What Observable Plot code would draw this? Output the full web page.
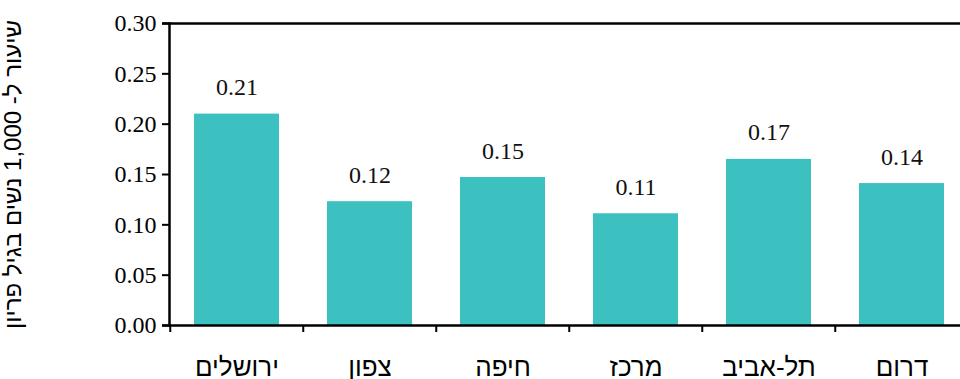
<!DOCTYPE html>
<html>
<head>
<meta charset="utf-8">
<script src="https://cdn.jsdelivr.net/npm/d3@7"></script>
<script src="https://cdn.jsdelivr.net/npm/@observablehq/plot@0.6"></script>
<style>
  html, body { margin: 0; padding: 0; background: #fff; }
  svg { display: block; }
</style>
</head>
<body>
<div id="chart"></div>
<script>
const categories = ["ירושלים", "צפון", "חיפה", "מרכז", "תל-אביב", "דרום"];
const values = [0.210, 0.123, 0.147, 0.111, 0.165, 0.141];
const valueLabels = ["0.21", "0.12", "0.15", "0.11", "0.17", "0.14"];
const yTicks = [0, 0.05, 0.10, 0.15, 0.20, 0.25, 0.30];
const yLabel = "שיעור ל- 1,000 נשים בגיל פריון";

const data = categories.map((c, i) => ({c, v: values[i], t: valueLabels[i]}));

const W = 960, H = 379, mL = 169, mR = -10, mT = 23, mB = 54;
const bw = (W - mL - mR) / categories.length;
const serif = "'Liberation Serif', 'Times New Roman', serif";
const sans = "'Liberation Sans', Arial, sans-serif";

const chart = Plot.plot({
  width: W,
  height: H,
  marginLeft: mL,
  marginRight: mR,
  marginTop: mT,
  marginBottom: mB,
  style: {background: "#fff", color: "#000", overflow: "visible"},
  x: {domain: categories, paddingInner: 0.36, paddingOuter: 0.18},
  y: {domain: [0, 0.30]},
  marks: [
    Plot.barY(data, {x: "c", y: "v", fill: "#3DC0C0"}),
    Plot.text(data, {x: "c", y: "v", text: "t", lineAnchor: "bottom", dy: -19,
      fontSize: 24, fontFamily: serif, fill: "#111"}),
    Plot.ruleY([0, 0.30], {stroke: "#000", strokeWidth: 2.5, insetLeft: -7}),
    Plot.ruleX(categories, {x: d => d, y1: 0, y2: 0, dx: -bw / 2, insetBottom: -7,
      stroke: "#000", strokeWidth: 2}),
    Plot.axisY({ticks: yTicks, tickFormat: ".2f", tickSize: 7, tickPadding: 6,
      fontSize: 24, fontFamily: serif, strokeWidth: 2,
      label: yLabel, labelAnchor: "center", labelArrow: "none", labelOffset: 166}),
    Plot.axisX({tickSize: 0, tickPadding: 32, fontSize: 26, fontFamily: sans, label: null}),
    Plot.frame({anchor: "left", stroke: "#000", strokeWidth: 2.5})
  ]
});
document.getElementById("chart").appendChild(chart);
chart.querySelectorAll("g[aria-label='y-axis label'] text").forEach(t => {
  t.style.fontFamily = sans; t.style.fontSize = "24px";
});
</script>
</body>
</html>
